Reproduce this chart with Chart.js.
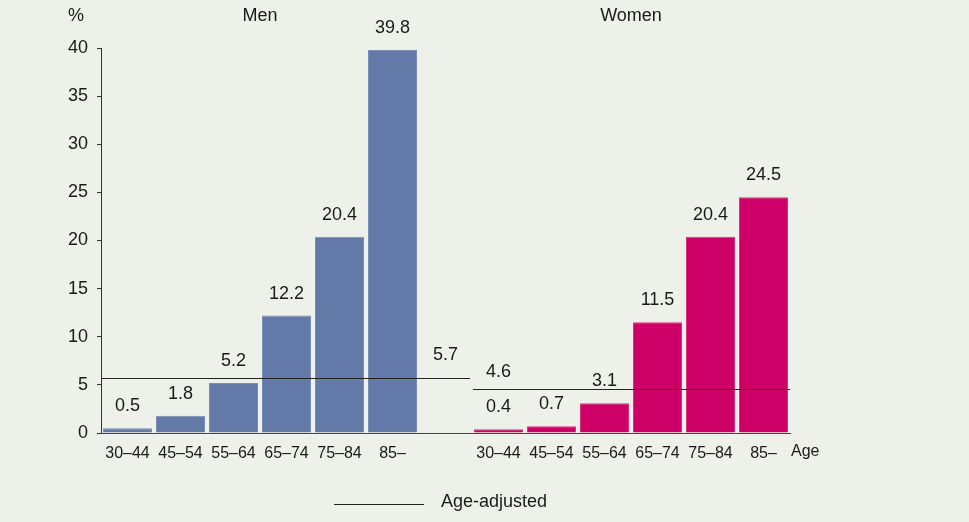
<!DOCTYPE html>
<html>
<head>
  <title>Age-specific prevalence, men and women</title>
  <script src="https://cdn.jsdelivr.net/npm/chart.js"></script>
  <style>
    body {
      margin: 0;
      background: #eef1e9;
    }
    canvas {
      display: block;
    }
  </style>
</head>
<body>
  <canvas id="chart" width="969" height="522"></canvas>

  <script>
    // age groups and rates (%)
    var ageGroups = ["30–44", "45–54", "55–64", "65–74", "75–84", "85–"];
    var menValues = [0.5, 1.8, 5.2, 12.2, 20.4, 39.8];
    var womenValues = [0.4, 0.7, 3.1, 11.5, 20.4, 24.5];
    var menAdjusted = 5.7;
    var womenAdjusted = 4.6;
    var yTicks = [0, 5, 10, 15, 20, 25, 30, 35, 40];

    var FONT = "'Liberation Sans', Arial, Helvetica, sans-serif";
    var TEXT = "#1a1a1a";

    // men, one empty slot, then women on the same category axis
    var labels = ageGroups.concat([""], ageGroups);
    var blanks = ageGroups.map(function () { return null; });
    var menData = menValues.concat([null], blanks);
    var womenData = blanks.concat([null], womenValues);

    function txt(ctx, s, x, y, size, align) {
      ctx.font = size + "px " + FONT;
      ctx.fillStyle = TEXT;
      ctx.textAlign = align || "center";
      ctx.textBaseline = "middle";
      ctx.fillText(s, x, y);
    }

    var extras = {
      id: "extras",
      afterDatasetsDraw: function (chart) {
        var ctx = chart.ctx;
        var x = chart.scales.x, y = chart.scales.y;
        var area = chart.chartArea;
        var menBars = chart.getDatasetMeta(0).data;
        var womenBars = chart.getDatasetMeta(1).data;
        ctx.save();

        // values above bars
        menValues.forEach(function (v, i) {
          var b = menBars[i];
          txt(ctx, v.toFixed(1), b.x, b.y - 22, 18);
        });
        womenValues.forEach(function (v, i) {
          var b = womenBars[i + 7];
          txt(ctx, v.toFixed(1), b.x, b.y - 22, 18);
        });

        // age-adjusted lines
        var split = (x.getPixelForValue(6) + x.getPixelForValue(7)) / 2;
        var last = womenBars[12];
        ctx.strokeStyle = "#222";
        ctx.lineWidth = 1;
        var ym = Math.round(y.getPixelForValue(menAdjusted)) + 0.5;
        var yw = Math.round(y.getPixelForValue(womenAdjusted)) + 0.5;
        ctx.beginPath();
        ctx.moveTo(area.left, ym);
        ctx.lineTo(split - 2, ym);
        ctx.moveTo(split + 1, yw);
        ctx.lineTo(last.x + last.width / 2 + 2, yw);
        ctx.stroke();
        txt(ctx, menAdjusted.toFixed(1), x.getPixelForValue(6), ym - 23, 18);
        txt(ctx, womenAdjusted.toFixed(1), x.getPixelForValue(7), yw - 17, 18);

        // group titles, units, axis name
        txt(ctx, "Men", (menBars[0].x + menBars[5].x) / 2, 16, 18);
        txt(ctx, "Women", (womenBars[7].x + womenBars[12].x) / 2, 16, 18);
        txt(ctx, "%", 76, 16, 18);
        txt(ctx, "Age", area.right + 1, 452, 16, "left");

        // legend
        ctx.beginPath();
        ctx.moveTo(334, 504.5);
        ctx.lineTo(424, 504.5);
        ctx.stroke();
        txt(ctx, "Age-adjusted", 441, 502, 18, "left");

        ctx.restore();
      }
    };

    var ctx = document.getElementById("chart").getContext("2d");
    var chart = new Chart(ctx, {
      type: "bar",
      data: {
        labels: labels,
        datasets: [{
          label: "Men",
          data: menData,
          backgroundColor: "#6379a7",
          borderColor: "#7a8db5",
          borderWidth: 1,
          grouped: false
        }, {
          label: "Women",
          data: womenData,
          backgroundColor: "#cc0066",
          borderColor: "#d7337f",
          borderWidth: 1,
          grouped: false
        }]
      },
      options: {
        responsive: false,
        animation: false,
        barPercentage: 0.925,
        categoryPercentage: 1,
        layout: {
          padding: { left: 0, top: 48, right: 179, bottom: 0 }
        },
        plugins: {
          legend: { display: false },
          tooltip: { enabled: false }
        },
        scales: {
          x: {
            offset: true,
            grid: { display: false, drawTicks: false },
            border: { display: true, color: "#444", width: 1 },
            ticks: {
              padding: 11,
              color: TEXT,
              maxRotation: 0,
              autoSkip: false,
              font: { family: FONT, size: 16 }
            },
            afterFit: function (scale) { scale.height = 89; }
          },
          y: {
            min: 0,
            max: 40,
            afterBuildTicks: function (scale) {
              scale.ticks = yTicks.map(function (v) { return { value: v }; });
            },
            grid: {
              drawOnChartArea: false,
              drawTicks: true,
              tickLength: 4,
              color: "#333"
            },
            border: { display: true, color: "#333", width: 1 },
            ticks: {
              padding: 9,
              color: TEXT,
              font: { family: FONT, size: 18 }
            },
            afterFit: function (scale) { scale.width = 101; }
          }
        }
      },
      plugins: [extras]
    });
  </script>
</body>
</html>
